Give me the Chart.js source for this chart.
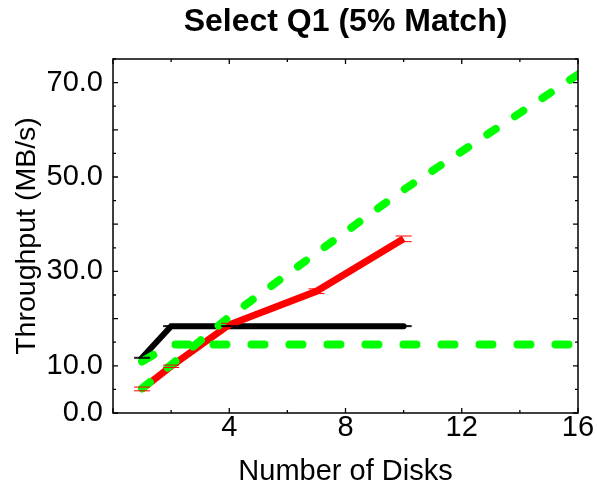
<!DOCTYPE html>
<html>
<head>
<meta charset="utf-8">
<script src="https://cdn.jsdelivr.net/npm/chart.js@4/dist/chart.umd.min.js"></script>
<style>
  html, body { margin: 0; padding: 0; background: #fff; }
  #wrap { width: 597px; height: 489px; position: relative; }
</style>
</head>
<body>
<div id="wrap"><canvas id="c" width="597" height="489"></canvas></div>
<script>
// ---- data ----
const chartTitle = "Select Q1 (5% Match)";
const xAxisTitle = "Number of Disks";
const yAxisTitle = "Throughput (MB/s)";

const measuredDisks = [1, 2, 4, 7, 10];
const seqThroughput = [11.7, 18.4, 18.4, 18.4, 18.4];       // black
const seqError      = [0.1, 0.1, 0.1, 0.1, 0.1];
const parThroughput = [5.1, 9.9, 18.7, 25.8, 36.9];         // red
const parError      = [0.4, 0.25, 0.3, 0.5, 0.6];

const modelDisks    = [1, 2, 4, 7, 10, 16];
const linearModel   = [5.2, 10.2, 20.4, 33.9, 47.3, 71.7];  // green rising
const flatModel     = [10.9, 14.5, 14.5, 14.5, 14.5, 14.5]; // green flat

const yLabelValues = [0, 10, 30, 50, 70];
const xLabelValues = [4, 8, 12, 16];

const FONT = "'Liberation Sans', Arial, Helvetica, sans-serif";

function pts(xs, ys) { return xs.map((x, i) => ({ x: x, y: ys[i] })); }

const frameAndTicks = {
  id: 'frameAndTicks',
  afterDatasetsDraw(chart) {
    const ctx = chart.ctx;
    const a = chart.chartArea;
    const xs = chart.scales.x, ys = chart.scales.y;
    ctx.save();
    ctx.strokeStyle = '#000';
    ctx.lineWidth = 1.5;
    ctx.strokeRect(a.left, a.top, a.right - a.left, a.bottom - a.top);
    ctx.lineWidth = 1.3;
    ctx.beginPath();
    ys.ticks.forEach(t => {
      const py = ys.getPixelForValue(t.value);
      const len = (Math.round(t.value) % 10 === 0) ? 5 : 3;
      ctx.moveTo(a.left, py); ctx.lineTo(a.left + len, py);
      ctx.moveTo(a.right, py); ctx.lineTo(a.right - len, py);
    });
    xs.ticks.forEach(t => {
      const px = xs.getPixelForValue(t.value);
      const len = (Math.round(t.value) % 4 === 0) ? 5 : 3;
      ctx.moveTo(px, a.bottom); ctx.lineTo(px, a.bottom - len);
      ctx.moveTo(px, a.top); ctx.lineTo(px, a.top + len);
    });
    ctx.stroke();
    // error bar caps
    const drawCaps = (xsArr, ysArr, errs, color) => {
      ctx.strokeStyle = color;
      ctx.lineWidth = 1;
      ctx.beginPath();
      xsArr.forEach((xv, i) => {
        const px = xs.getPixelForValue(xv);
        [ysArr[i] - errs[i], ysArr[i] + errs[i]].forEach(v => {
          const py = ys.getPixelForValue(v);
          ctx.moveTo(px - 8, py); ctx.lineTo(px + 8, py);
        });
      });
      ctx.stroke();
    };
    drawCaps(measuredDisks, parThroughput, parError, '#ff0000');
    drawCaps(measuredDisks, seqThroughput, seqError, '#000000');
    ctx.restore();
  }
};

new Chart(document.getElementById('c'), {
  type: 'line',
  data: {
    datasets: [
      { data: pts(modelDisks, linearModel), borderColor: '#00ff00', borderWidth: 8,
        borderDash: [10, 23], borderCapStyle: 'round', borderJoinStyle: 'round', order: 1 },
      { data: pts(modelDisks, flatModel), borderColor: '#00ff00', borderWidth: 8,
        borderDash: [13, 25], borderCapStyle: 'round', borderJoinStyle: 'round', order: 2 },
      { data: pts(measuredDisks, parThroughput), borderColor: '#ff0000', borderWidth: 7,
        borderCapStyle: 'butt', borderJoinStyle: 'miter', order: 3 },
      { data: pts(measuredDisks, seqThroughput), borderColor: '#000000', borderWidth: 6,
        borderCapStyle: 'round', borderJoinStyle: 'miter', order: 4 }
    ]
  },
  options: {
    responsive: false,
    animation: false,
    events: [],
    elements: { point: { radius: 0 }, line: { tension: 0, fill: false } },
    layout: { padding: { left: 0, right: 19, top: 0, bottom: 0 } },
    plugins: {
      legend: { display: false },
      tooltip: { enabled: false },
      title: {
        display: true, text: chartTitle, fullSize: false, color: '#000',
        font: { family: FONT, size: 32, weight: 'bold', lineHeight: 1.2 },
        padding: { top: 3, bottom: 17.6 }
      }
    },
    scales: {
      x: {
        type: 'linear', min: 0, max: 16,
        grid: { display: false, drawTicks: false },
        border: { display: false },
        ticks: {
          stepSize: 2, autoSkip: false, maxRotation: 0, padding: 0, color: '#000',
          font: { family: FONT, size: 29, lineHeight: 1 },
          callback: v => xLabelValues.includes(v) ? String(v) : ''
        },
        title: { display: true, text: xAxisTitle, color: '#000',
          font: { family: FONT, size: 29, lineHeight: 1.2 }, padding: { top: 0, bottom: 0 } },
        afterFit: s => { s.height = 76; }
      },
      y: {
        type: 'linear', min: 0, max: 75,
        grid: { display: false, drawTicks: false },
        border: { display: false },
        ticks: {
          stepSize: 5, autoSkip: false, padding: 10, color: '#000',
          font: { family: FONT, size: 29, lineHeight: 1 },
          callback: v => yLabelValues.includes(v) ? v.toFixed(1) : ''
        },
        title: { display: true, text: yAxisTitle, color: '#000',
          font: { family: FONT, size: 28.5, lineHeight: 1.2 }, padding: { top: 10, bottom: 0 } },
        afterFit: s => { s.width = 113; }
      }
    }
  },
  plugins: [frameAndTicks]
});
</script>
</body>
</html>
